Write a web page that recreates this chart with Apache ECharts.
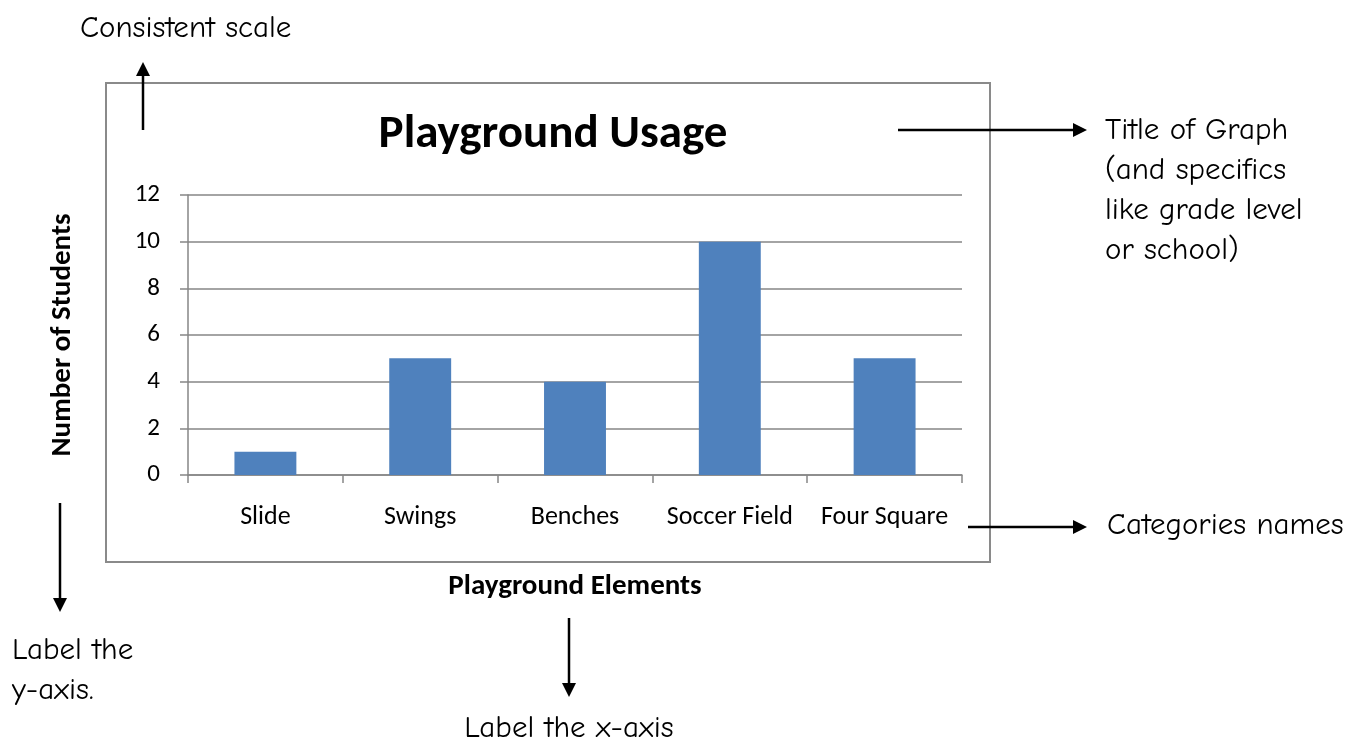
<!DOCTYPE html>
<html><head><meta charset="utf-8">
<script src="https://cdn.jsdelivr.net/npm/echarts@6/dist/echarts.min.js"></script>
<style>html,body{margin:0;padding:0;background:#fff}#c{width:1350px;height:743px}</style>
</head><body><div id="c"></div>
<script>
const categories = ['Slide', 'Swings', 'Benches', 'Soccer Field', 'Four Square'];
const students = [1, 5, 4, 10, 5];
const yTicks = [0, 2, 4, 6, 8, 10, 12];
const chartTitle = 'Playground Usage';
const xName = 'Playground Elements';
const yName = 'Number of Students';

const AF = "'Comic Sans MS','Comic Neue','DejaVu Sans',sans-serif";
const CF = "Carlito,Calibri,'Open Sans',sans-serif";
const ink = '#000';
function arrow(x1, y1, x2, y2) {
  const dx = x2 - x1, dy = y2 - y1, L = Math.hypot(dx, dy);
  const ux = dx / L, uy = dy / L, hl = 14, hw = 7;
  const bx = x2 - ux * hl, by = y2 - uy * hl;
  return [
    {type: 'line', shape: {x1, y1, x2: bx, y2: by}, style: {stroke: ink, lineWidth: 2.5}},
    {type: 'polygon', shape: {points: [[x2, y2], [bx - uy * hw, by + ux * hw], [bx + uy * hw, by - ux * hw]]}, style: {fill: ink}}
  ];
}
function note(x, y, text, align, va) {
  return {type: 'text', x, y, style: {text, font: "31px " + AF, fill: ink, align: align || 'left', verticalAlign: va || 'middle', lineHeight: 40}};
}

const chart = echarts.init(document.getElementById('c'));
chart.setOption({
  animation: false,
  title: {text: chartTitle, left: 548, top: 107, textAlign: 'center',
    textStyle: {fontFamily: CF, fontSize: 47, fontWeight: 'bold', color: '#000'}},
  grid: {left: 188, right: 388, top: 195, bottom: 268},
  xAxis: {
    type: 'category', data: categories,
    name: xName, nameLocation: 'middle', nameGap: 97,
    nameTextStyle: {fontFamily: CF, fontSize: 29, fontWeight: 'bold', color: '#000'},
    axisLine: {lineStyle: {color: '#868686', width: 1.5}},
    axisTick: {show: true, length: 8, lineStyle: {color: '#868686', width: 1.5}},
    axisLabel: {interval: 0, hideOverlap: false, fontFamily: CF, fontSize: 26, color: '#000', margin: 29}
  },
  yAxis: {
    type: 'value', min: 0, max: 12, interval: 2,
    name: yName, nameLocation: 'middle', nameGap: 111,
    nameTextStyle: {fontFamily: CF, fontSize: 29, fontWeight: 'bold', color: '#000'},
    axisLine: {show: true, lineStyle: {color: '#868686', width: 1.5}},
    axisTick: {show: true, length: 8, lineStyle: {color: '#868686', width: 1.5}},
    axisLabel: {fontFamily: CF, fontSize: 25, color: '#000', margin: 28,
      formatter: v => yTicks.includes(v) ? String(v) : ''},
    splitLine: {lineStyle: {color: '#868686', width: 1.5}}
  },
  series: [{type: 'bar', data: students, barWidth: '40%', itemStyle: {color: '#4F81BD'}}],
  graphic: [
    {type: 'rect', shape: {x: 106, y: 83, width: 884, height: 479}, style: {fill: 'none', stroke: '#8a8a8a', lineWidth: 2}, z: -1},
    note(80, 28, 'Consistent scale'),
    ...arrow(143, 130, 143, 62),
    ...arrow(898, 130, 1087, 130),
    note(1105, 110, 'Title of Graph\n(and specifics\nlike grade level\nor school)', 'left', 'top'),
    ...arrow(968, 527, 1087, 527),
    note(1107, 525, 'Categories names'),
    ...arrow(60, 503, 60, 612),
    note(12, 630, 'Label the\ny-axis.', 'left', 'top'),
    ...arrow(569, 618, 569, 697),
    note(569, 728, 'Label the x-axis', 'center')
  ]
});
</script></body></html>
